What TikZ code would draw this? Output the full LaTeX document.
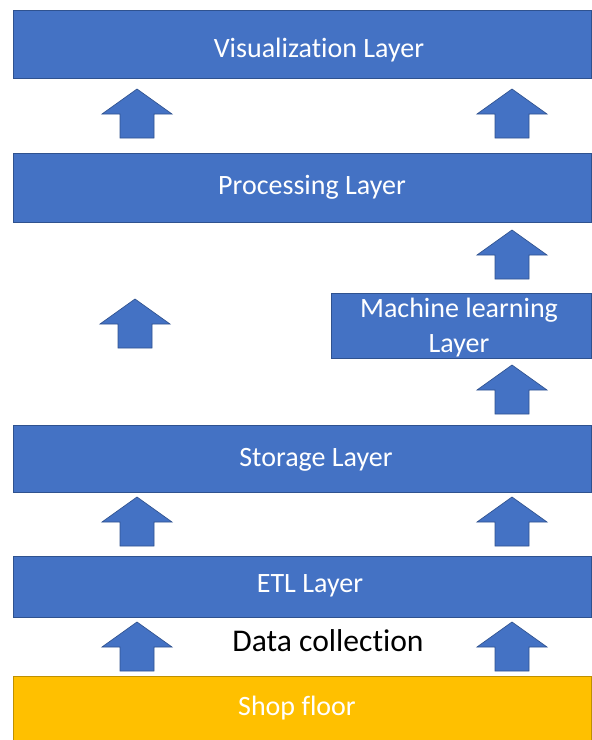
\documentclass[tikz,border=0pt]{standalone}
\usepackage{fontspec}
\setmainfont[Ligatures=NoCommon]{Carlito}
\usetikzlibrary{fit}
\definecolor{layerblue}{HTML}{4472C4}
\definecolor{layeredge}{HTML}{2F528F}
\definecolor{flooryellow}{HTML}{FFC000}
\definecolor{flooredge}{HTML}{BF9000}
\begin{document}
\begin{tikzpicture}[x=0.75pt,y=-0.75pt]
\tikzset{
  layer/.style={draw=layeredge, line width=0.6pt, fill=layerblue, inner sep=0pt},
  floor/.style={draw=flooredge, line width=0.6pt, fill=flooryellow, inner sep=0pt},
  layertext/.style={text=white, font=\fontsize{21}{26}\selectfont, inner sep=0pt, anchor=base},
  blocktip/.style={draw=layeredge, line width=0.5pt, fill=layerblue},
  uparr/.pic={\path[blocktip] (0,0) -- (35,25) -- (17,25) -- (17,49)
     -- (-17,49) -- (-17,25) -- (-35,25) -- cycle;}
}
\useasboundingbox (0,0) rectangle (592,740);

% layer boxes
\node[layer, fit={(13,10) (591.5,78)}] (vis) {};
\node[layer, fit={(13,153) (591.5,222)}] (proc) {};
\node[layer, fit={(331,293) (591.5,358)}] (ml) {};
\node[layer, fit={(13,425) (591.5,492)}] (stor) {};
\node[layer, fit={(13,556) (591.5,617)}] (etl) {};
\node[floor, fit={(13,676) (591.5,741)}] (shop) {};

% labels
\node[layertext] (vislabel) at (319,57) {Visualization Layer};
\node[layertext] (proclabel) at (312,194) {Processing Layer};
\node[layertext] (mllabel1) at (459,317) {Machine learning};
\node[layertext] (mllabel2) at (459,352) {Layer};
\node[layertext] (storlabel) at (316,466) {Storage Layer};
\node[layertext] (etllabel) at (310,592) {ETL Layer};
\node[layertext] (shoplabel) at (297,715) {Shop floor};
\node[text=black, font=\fontsize{23.7}{28}\selectfont, inner sep=0pt, anchor=base] (collect) at (328,651) {Data collection};

% upward block arrows
\pic at (137,89) {uparr};
\pic at (512,89) {uparr};
\pic at (512,230) {uparr};
\pic at (135,299) {uparr};
\pic at (512,365) {uparr};
\pic at (137,497) {uparr};
\pic at (512,497) {uparr};
\pic at (137,622) {uparr};
\pic at (512,622) {uparr};
\end{tikzpicture}
\end{document}
